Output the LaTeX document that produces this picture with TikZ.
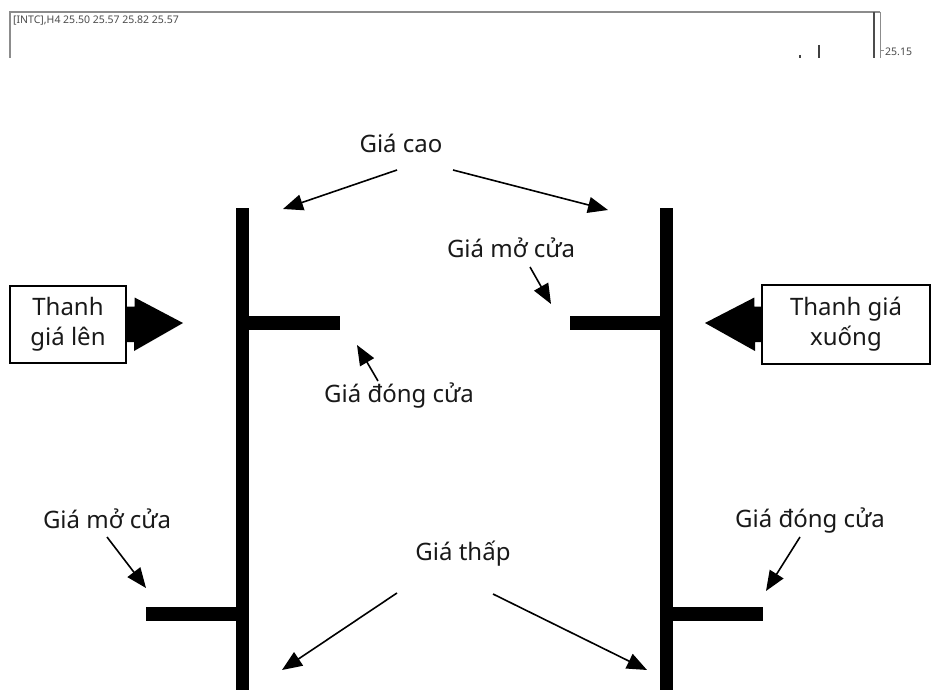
\documentclass[tikz,border=0pt]{standalone}
\usepackage{fontspec}
\setmainfont{Noto Sans}
\usetikzlibrary{arrows.meta}
\tikzset{
  lbl/.style={inner sep=0pt, font=\fontsize{24}{29}\selectfont, text=black!90},
  ptr/.style={line width=1.6pt, -{Triangle[length=20pt,width=16pt]}},
  barv/.style={line width=13pt, line cap=butt},
  barh/.style={line width=14pt, line cap=butt},
  boxst/.style={draw, line width=1.2pt, inner sep=0pt, align=center, font=\fontsize{24}{30}\selectfont, text=black!90},
  chartline/.style={draw=black!45, line width=1.2pt},
  tiny/.style={inner sep=0pt, font=\fontsize{10.5}{11}\selectfont, text=black!70},
}
\begin{document}
\begin{tikzpicture}[x=1pt,y=-1pt]
\useasboundingbox (0,0) rectangle (932,690);
% top chart fragment
\draw[chartline] (10,58) -- (10,12) -- (880,12);
\draw[line width=1.8pt, black!70] (874,12) -- (874,58);
\draw[line width=0.8pt, black!45] (880,12) -- (880,58);
\draw[line width=0.8pt, black!45] (880,50) -- (884,50);
\node[tiny, anchor=west] (hdr) at (13,21) {[INTC],H4 25.50 25.57 25.82 25.57};
\node[tiny, anchor=west] (pr) at (885,52) {25.15};
\draw[line width=1.4pt, black!75] (819,45) -- (819,58);
\draw[line width=1.4pt, black!75] (800,55) -- (800,58);

% candle bars
\coordinate (lt) at (242,208);
\coordinate (lb) at (242,690);
\coordinate (rt) at (666,208);
\coordinate (rb) at (666,690);
\draw[barv] (lt) -- (lb);
\draw[barv] (rt) -- (rb);
\coordinate (lcl) at (340,323);
\coordinate (lop) at (146,614);
\coordinate (rop) at (570,323);
\coordinate (rcl) at (763,614);
\draw[barh] (242,323) -- (lcl);
\draw[barh] (lop) -- (242,614);
\draw[barh] (rop) -- (666,323);
\draw[barh] (666,614) -- (rcl);

% boxes
\node[boxst, minimum width=116pt, minimum height=77pt] (lbox) at (68,324.5) {Thanh\\giá lên};
\node[boxst, minimum width=168pt, minimum height=79pt] (rbox) at (846,324.5) {Thanh giá\\xuống};
\fill (lbox.east) ++(0,-18) -- ++(8,0) -- ++(0,-9) -- (183,323) -- (134,351) -- (134,342) -- (lbox.east |- 0,342) -- cycle;
\fill (rbox.west) ++(0,-18) -- ++(-7,0) -- ++(0,-9) -- (705,323) -- (755,351) -- (755,342) -- (rbox.west |- 0,342) -- cycle;

% labels
\node[lbl] (cao) at (401,143) {Giá cao};
\node[lbl] (mo1) at (511,248) {Giá mở cửa};
\node[lbl] (dong1) at (399,396) {Giá đóng cửa};
\node[lbl] (mo2) at (107,519) {Giá mở cửa};
\node[lbl, anchor=base] (dong2) at (810,527) {Giá đóng cửa};
\node[lbl] (thap) at (463,554) {Giá thấp};

% arrow ends
\coordinate (a1) at (283,209);
\coordinate (a2) at (608,210);
\coordinate (a3) at (551,304);
\coordinate (a4) at (357,345);
\coordinate (a5) at (146,588);
\coordinate (a6) at (766,591);
\coordinate (a7) at (282,670);
\coordinate (a8) at (647,670);

\draw[ptr] (397,170) -- (a1);
\draw[ptr] (453,170) -- (a2);
\draw[ptr] (530,267) -- (a3);
\draw[ptr] (378,381) -- (a4);
\draw[ptr] (107,537) -- (a5);
\draw[ptr] (800,537) -- (a6);
\draw[ptr] (397,593) -- (a7);
\draw[ptr] (493,594) -- (a8);
\end{tikzpicture}
\end{document}
